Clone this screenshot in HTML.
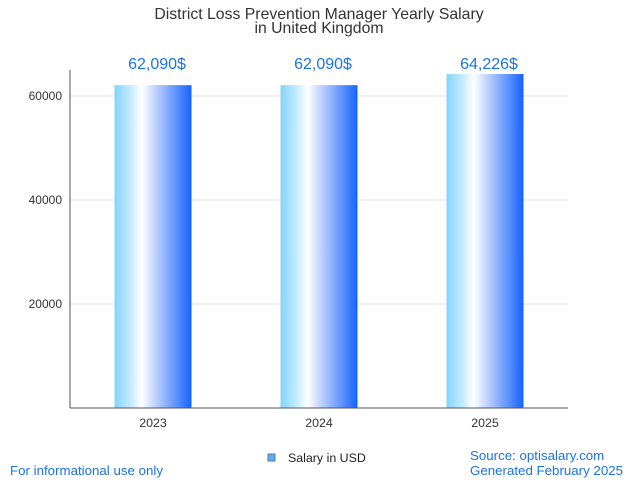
<!DOCTYPE html>
<html><head><meta charset="utf-8"><style>
body{margin:0;background:#fff;font-family:"Liberation Sans",sans-serif;}
svg text{font-family:"Liberation Sans",sans-serif;}
</style></head><body>
<svg width="638" height="478">
<defs>
<linearGradient id="g" x1="0" x2="1" y1="0" y2="0">
<stop offset="0" stop-color="#84d4ff"/>
<stop offset="0.22" stop-color="#c8ecff"/>
<stop offset="0.35" stop-color="#ffffff"/>
<stop offset="0.55" stop-color="#b8cdfc"/>
<stop offset="1" stop-color="#1463ff"/>
</linearGradient>
</defs>
<text x="319" y="19" text-anchor="middle" font-size="15.8" fill="#333">District Loss Prevention Manager Yearly Salary</text>
<text x="319" y="33" text-anchor="middle" font-size="15.8" fill="#333">in United Kingdom</text>
<g id="grid"></g>
<g id="bars"></g>
<line x1="70" y1="70" x2="70" y2="408" stroke="#555"/>
<line x1="70" y1="408" x2="568" y2="408" stroke="#555"/>
<rect x="268" y="454" width="7" height="7" fill="#6aa6e8" stroke="#4a7fc0"/>
<text x="288" y="462" font-size="12.4" fill="#222">Salary in USD</text>
<text x="10" y="475" font-size="13.3" fill="#1a73e8">For informational use only</text>
<text x="470" y="460" font-size="13.3" fill="#1a73e8">Source: optisalary.com</text>
<text x="470" y="475" font-size="13.3" fill="#1a73e8">Generated February 2025</text>
</svg>
<script>
const categories=["2023","2024","2025"];
const values=[62090,62090,64226];
const labels=["62,090$","62,090$","64,226$"];
const yTicks=[20000,40000,60000];
const ns="http://www.w3.org/2000/svg";
const x0=70,x1=568,y0=408;
const yScale=v=>y0-v*(104/20000);
const band=(x1-x0)/categories.length;
const xc=i=>x0+band*(i+0.5);
function mk(t,a,p){const e=document.createElementNS(ns,t);for(const k in a)e.setAttribute(k,a[k]);p.appendChild(e);return e;}
const grid=document.getElementById('grid'),bars=document.getElementById('bars');
yTicks.forEach(v=>{
 const l=mk('line',{x1:x0,x2:x1,y1:yScale(v),y2:yScale(v),stroke:'#e2e2e2'},grid);
 
 
 const t=mk('text',{x:x0-8,y:yScale(v)+4,'text-anchor':'end','font-size':12,fill:'#333'},grid);
 t.textContent=v;
 
 
});
categories.forEach((c,i)=>{
 const w=77,y=yScale(values[i]);
 const r=mk('rect',{x:xc(i)-w/2,y:y,width:w,height:y0-y,fill:'url(#g)'},bars);
 
 
 const v=mk('text',{x:xc(i)+4,y:69,'text-anchor':'middle','font-size':16,fill:'#1a73e8'},bars);
 v.textContent=labels[i];
 
 
 const t=mk('text',{x:xc(i),y:427,'text-anchor':'middle','font-size':12.4,fill:'#333'},bars);
 t.textContent=c;
 
 
});
</script>
</body></html>
